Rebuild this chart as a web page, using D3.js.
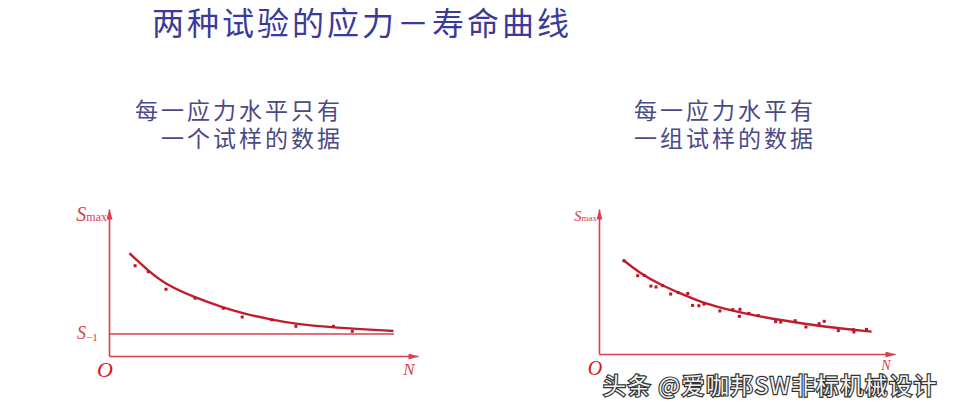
<!DOCTYPE html>
<html><head><meta charset="utf-8">
<script src="https://cdn.jsdelivr.net/npm/d3@7"></script>
<style>
html,body{margin:0;padding:0;background:#fff;}
svg{display:block;}
</style></head>
<body>
<svg id="c" width="954" height="409"></svg>
<script>
// ---------- data ----------
const title = "两种试验的应力－寿命曲线";
const leftCaption = ["每一应力水平只有", "一个试样的数据"];
const rightCaption = ["每一应力水平有", "一组试样的数据"];
const watermark = "头条 @爱咖邦SW非标机械设计";

// left chart: fitted curve (N, Smax) and single-specimen points
const leftCurveN = [6.8, 13.1, 19.2, 28.7, 38.1, 44.4, 54.2, 62.3, 74.8, 94.8];
const leftCurveS = [68.5, 56.7, 47.3, 38.9, 32.2, 28.5, 24.2, 21.3, 18.9, 16.7];
const leftPtsN = [8.7, 13.1, 19.0, 28.7, 38.1, 44.4, 54.2, 62.3, 74.8, 81.1];
const leftPtsS = [60.2, 56.2, 44.5, 38.5, 31.8, 26.0, 24.2, 19.8, 19.8, 16.5];
const enduranceLimit = 14.7;   // S-1
const enduranceEndN = 95;

// right chart: fitted curve and group-specimen points
const rightCurveN = [8.1, 13.7, 20.3, 27.0, 34.8, 44.8, 53.7, 64.8, 75.9, 90.9];
const rightCurveS = [62.7, 53.8, 46.5, 40.5, 33.8, 28.7, 24.9, 21.3, 18.0, 14.9];
const rightPtsN = [8.3, 12.9, 15.1, 17.3, 19.0, 21.2, 23.9, 26.4, 29.6, 31.2, 33.3, 35.0, 40.3, 44.6, 46.8, 47.0, 50.0, 53.1, 58.9, 60.6, 65.4, 69.0, 73.4, 75.1, 79.8, 84.8, 85.0, 89.2];
const rightPtsS = [62.2, 52.2, 52.4, 45.3, 44.7, 45.6, 40.0, 40.9, 40.4, 32.4, 32.2, 33.3, 28.7, 29.6, 25.1, 29.8, 27.1, 25.6, 21.6, 21.3, 22.2, 18.0, 20.2, 21.8, 15.6, 16.2, 14.7, 16.4];

// ---------- drawing ----------
const svg = d3.select("#c");
const cjk = "'Noto Sans CJK SC','Noto Sans',sans-serif";
const serif = "'Liberation Serif','DejaVu Serif',serif";
const axisCol = "#d8404e", curveCol = "#c01e2c", ptCol = "#b51826";

svg.append("text").attr("x", 362).attr("y", 35).attr("text-anchor", "middle")
  .attr("font-family", cjk).attr("font-size", 32).attr("letter-spacing", 3)
  .attr("fill", "#3b3a9a").text(title);

function caption(lines, x, anchor) {
  lines.forEach((t, i) => svg.append("text").attr("x", x).attr("y", 119 + i * 28)
    .attr("text-anchor", anchor).attr("font-family", cjk).attr("font-size", 23)
    .attr("letter-spacing", 3).attr("fill", "#4b4a86").text(t));
}
caption(leftCaption, 343, "end");
caption(rightCaption, 634, "start");

const defs = svg.append("defs");
defs.append("marker").attr("id", "arr").attr("viewBox", "0 0 10 6").attr("refX", 10).attr("refY", 3)
  .attr("markerWidth", 11).attr("markerHeight", 6).attr("markerUnits", "userSpaceOnUse").attr("orient", "auto")
  .append("path").attr("d", "M0,0L10,3L0,6Z").attr("fill", axisCol);

function chart(o) {
  const x = d3.scaleLinear().domain([0, o.xMax]).range([o.x0, o.x1]);
  const y = d3.scaleLinear().domain([0, o.yMax]).range([o.y0, o.y1]);
  const g = svg.append("g");
  const ax = g.append("g").attr("transform", `translate(0,${o.y0})`)
    .call(d3.axisBottom(x).tickValues([]).tickSizeOuter(0));
  const ay = g.append("g").attr("transform", `translate(${o.x0},0)`)
    .call(d3.axisLeft(y).tickValues([]).tickSizeOuter(0));
  [ax, ay].forEach(a => a.select(".domain").attr("stroke", axisCol).attr("stroke-width", 1.6)
    .attr("marker-end", "url(#arr)"));
  if (o.limit != null) {
    g.append("line").attr("x1", x(0)).attr("x2", x(o.limitEnd))
      .attr("y1", y(o.limit)).attr("y2", y(o.limit)).attr("stroke", axisCol).attr("stroke-width", 1.6);
    const t = g.append("text").attr("x", o.x0 - 32).attr("y", y(o.limit) + 5)
      .attr("font-family", serif).attr("font-size", 18).attr("fill", axisCol);
    t.append("tspan").attr("font-style", "italic").text("S");
    t.append("tspan").attr("font-size", 11).attr("dy", 2).text("−1");
  }
  const curve = d3.line().x(d => x(d[0])).y(d => y(d[1])).curve(d3.curveBasis);
  g.append("path").datum(d3.zip(o.cN, o.cS)).attr("d", curve).attr("fill", "none")
    .attr("stroke", curveCol).attr("stroke-width", 2.4);
  g.selectAll(".pt").data(d3.zip(o.pN, o.pS)).join("rect")
    .attr("x", d => x(d[0]) - 1.5).attr("y", d => y(d[1]) - 1.5)
    .attr("width", 3).attr("height", 3).attr("fill", ptCol);
  // labels
  const s = g.append("text").attr("x", o.x0 - 2).attr("y", o.y1 + o.sOff).attr("text-anchor", "end")
    .attr("font-family", serif).attr("fill", axisCol).attr("font-size", o.sSize);
  s.append("tspan").attr("font-style", "italic").text("S");
  s.append("tspan").attr("font-size", o.sSize * 0.6).text("max");
  g.append("text").attr("x", o.x0 - 4).attr("y", o.y0 + 21).attr("text-anchor", "middle")
    .attr("font-family", serif).attr("font-style", "italic").attr("font-size", o.oSize).attr("fill", "#e0101e").text("O");
  g.append("text").attr("x", o.x1 - 9).attr("y", o.y0 + o.nOff).attr("text-anchor", "middle")
    .attr("font-family", serif).attr("font-style", "italic").attr("font-size", o.nSize).attr("fill", axisCol).text("N");
}

chart({x0: 109, x1: 418, xMax: 103, y0: 356, y1: 209, yMax: 98,
  cN: leftCurveN, cS: leftCurveS, pN: leftPtsN, pS: leftPtsS,
  limit: enduranceLimit, limitEnd: enduranceEndN, sSize: 20, sOff: 12, oSize: 22, nSize: 17, nOff: 19});
chart({x0: 599, x1: 895, xMax: 98.7, y0: 354, y1: 209, yMax: 96.7,
  cN: rightCurveN, cS: rightCurveS, pN: rightPtsN, pS: rightPtsS,
  limit: null, sSize: 15, sOff: 12, oSize: 20, nSize: 14, nOff: 16});

// watermark
svg.append("text").attr("x", 603).attr("y", 394).attr("font-family", cjk).attr("font-size", 23)
  .attr("letter-spacing", 1.4)
  .attr("fill", "#f2f2f2").attr("stroke", "#333").attr("stroke-width", 2.4).attr("paint-order", "stroke")
  .text(watermark);
</script>
</body></html>
